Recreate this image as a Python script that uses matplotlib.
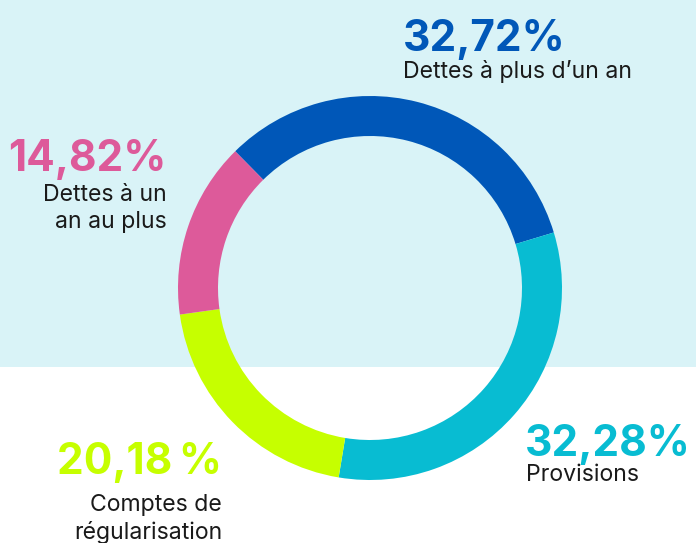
import matplotlib.pyplot as plt
from matplotlib.patches import Rectangle

# data
categories = ["Dettes à plus d’un an", "Provisions",
              "Comptes de\nrégularisation", "Dettes à un\nan au plus"]
values = [32.72, 32.28, 20.18, 14.82]
pct_labels = ["32,72%", "32,28%", "20,18\u2009%", "14,82%"]
colors = ["#0057b8", "#08bcd2", "#c6ff00", "#dd5a9a"]

W, H = 696, 543

fig = plt.figure(figsize=(W / 100, H / 100), dpi=100)
ax = fig.add_axes([0, 0, 1, 1])

# light top band
ax.add_patch(Rectangle((0, H - 367), W, 367, color="#d9f3f7", zorder=0, lw=0))

ax.pie(values, colors=colors, startangle=134.6, counterclock=False,
       center=(370, H - 288), radius=192,
       wedgeprops=dict(width=40, linewidth=0), frame=True)
ax.set_xlim(0, W)
ax.set_ylim(0, H)
ax.set_aspect("equal")
ax.axis("off")

pct_font = dict(family="Inter", fontweight="bold", fontsize=30.5)
lab_font = dict(family="Inter", fontsize=16.6, color="#1a1a1a", linespacing=1.3)

# (pct x, pct baseline, label x, label baseline of last line, ha)
spots = [
    (403, 51, 403, 78, "left"),
    (525, 456, 526, 481, "left"),
    (222, 474, 222, 539, "right"),
    (167, 171, 167, 228, "right"),
]

for (px, py, lx, ly, ha), pct, lab, c in zip(spots, pct_labels, categories, colors):
    ax.text(px, H - py, pct, color=c, ha=ha, va="baseline", **pct_font)
    ax.text(lx, H - ly, lab, ha=ha, va="baseline", multialignment=ha, **lab_font)

fig.savefig("out.png", dpi=100)
